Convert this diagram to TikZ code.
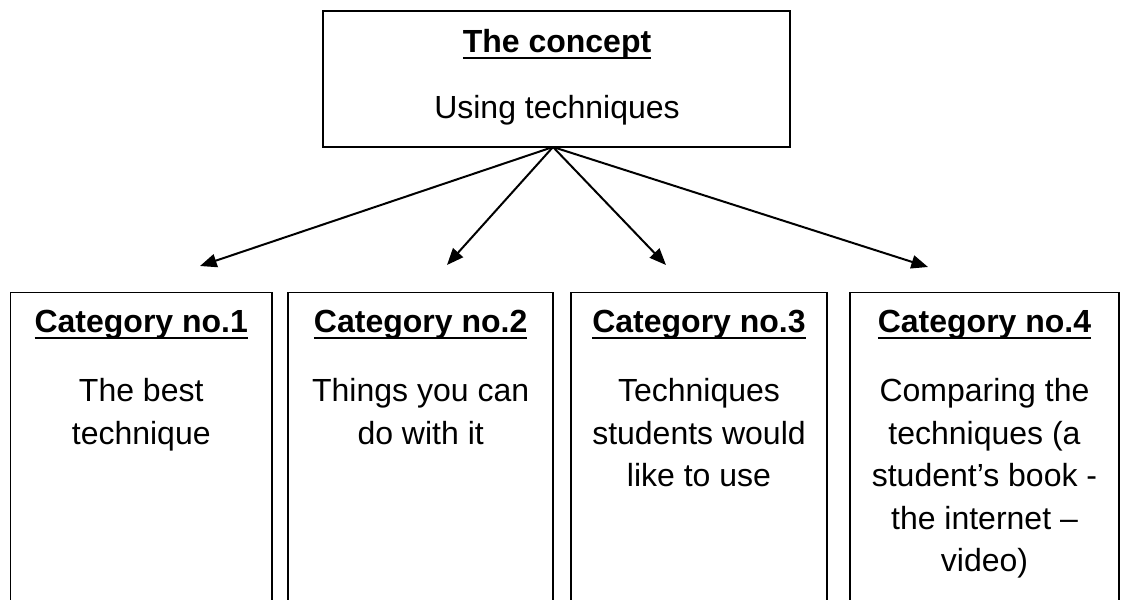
\documentclass[tikz,border=0pt]{standalone}
\usepackage{fontspec}
\setmainfont{Liberation Sans}
\usetikzlibrary{arrows.meta}
\newcommand\myul[1]{\setbox0\hbox{#1}\rlap{\vrule height -3.6pt depth 5.5pt width \wd0}\box0}
\begin{document}
\begin{tikzpicture}[x=0.75pt,y=-0.75pt,
  box/.style={draw=black, line width=1.3pt, rectangle, inner sep=0pt},
  txt/.style={anchor=base, inner sep=0pt, font=\fontsize{24}{29}\selectfont},
  ttl/.style={anchor=base, inner sep=0pt, font=\fontsize{24}{29}\selectfont\bfseries},
  arr/.style={line width=1.5pt, -{Triangle[length=12.5pt,width=10pt]}}]
\clip (0,0) rectangle (1122,600);
\fill[white] (0,0) rectangle (1122,600);
% top box
\node[box, minimum width=350.5pt, minimum height=101.8pt] (concept) at (556.3,78.8) {};
\node[ttl] (concepttitle) at (557,52) {\myul{The concept}};
\node[txt] (conceptbody) at (557,118) {Using techniques};
% bottom boxes
\node[box, minimum width=196.1pt, minimum height=245.6pt] (c1) at (141.25,456.25) {};
\node[box, minimum width=198.5pt, minimum height=245.6pt] (c2) at (420.65,456.25) {};
\node[box, minimum width=192pt, minimum height=245.6pt] (c3) at (699,456.25) {};
\node[box, minimum width=201.75pt, minimum height=245.6pt] (c4) at (984.5,456.25) {};
% titles
\node[ttl] (c1t) at (141.25,332) {\myul{Category no.1}};
\node[ttl] (c2t) at (420.65,332) {\myul{Category no.2}};
\node[ttl] (c3t) at (699,332) {\myul{Category no.3}};
\node[ttl] (c4t) at (984.5,332) {\myul{Category no.4}};
% bodies
\foreach \t [count=\i] in {{The best},{technique}}
  \node[txt] (c1l\i) at (141.25,{401.5+42.5*(\i-1)}) {\t};
\foreach \t [count=\i] in {{Things you can},{do with it}}
  \node[txt] (c2l\i) at (420.65,{401.5+42.5*(\i-1)}) {\t};
\foreach \t [count=\i] in {{Techniques},{students would},{like to use}}
  \node[txt] (c3l\i) at (699,{401.5+42.5*(\i-1)}) {\t};
\foreach \t [count=\i] in {{Comparing the},{techniques (a},{student’s book -},{the internet –},{video)}}
  \node[txt] (c4l\i) at (984.5,{401.5+42.5*(\i-1)}) {\t};
% arrows
\coordinate (hub) at (553,147);
\coordinate (t1) at (200,266);
\coordinate (t2) at (447,265);
\coordinate (t3) at (666,265);
\coordinate (t4) at (928,267);
\draw[arr] (hub) -- (t1);
\draw[arr] (hub) -- (t2);
\draw[arr] (hub) -- (t3);
\draw[arr] (hub) -- (t4);
\end{tikzpicture}
\end{document}
